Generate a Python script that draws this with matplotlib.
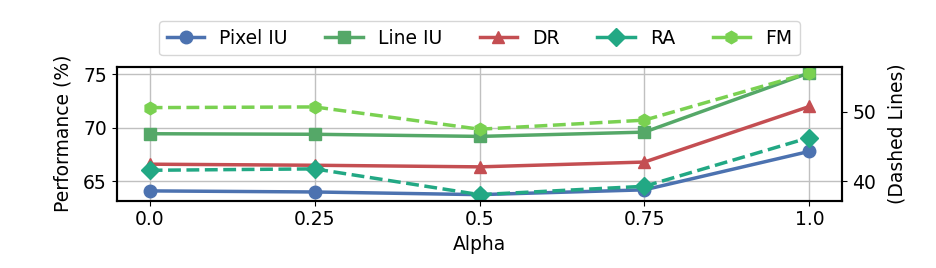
import numpy as np
import matplotlib.pyplot as plt
from matplotlib.lines import Line2D

alpha = [0.0, 0.25, 0.5, 0.75, 1.0]
alpha_labels = ['0.0', '0.25', '0.5', '0.75', '1.0']

# left axis (solid lines)
pixel_iu = [64.1, 64.0, 63.75, 64.2, 67.8]
line_iu  = [69.45, 69.4, 69.2, 69.6, 75.15]
dr       = [66.6, 66.5, 66.35, 66.8, 72.0]

# right axis (dashed lines)
ra = [41.6, 41.8, 38.1, 39.3, 46.3]
fm = [50.6, 50.7, 47.5, 48.8, 55.6]

C_BLUE, C_GREEN, C_RED = '#4C72B0', '#55A868', '#C44E52'
C_RA, C_FM = '#22A884', '#7AD151'

plt.rcParams['font.size'] = 13.5

fig = plt.figure(figsize=(9.37, 2.68), dpi=100)
ax = fig.add_axes([0.1245, 0.251, 0.7745, 0.5])
ax2 = ax.twinx()

lw, ms = 2.5, 9
ax.plot(alpha, pixel_iu, '-o', color=C_BLUE, lw=lw, ms=ms)
ax.plot(alpha, line_iu, '-s', color=C_GREEN, lw=lw, ms=ms)
ax.plot(alpha, dr, '-^', color=C_RED, lw=lw, ms=ms)
ax2.plot(alpha, ra, '--D', color=C_RA, lw=lw, ms=ms)
ax2.plot(alpha, fm, '--h', color=C_FM, lw=lw, ms=ms)

ax.set_xticks(alpha)
ax.set_xticklabels(alpha_labels)
ax.set_yticks([65, 70, 75])
ax2.set_yticks([40, 50])
ax.grid(True, color='#c0c0c0', lw=1)
ax.set_xlabel('Alpha')
ax.set_ylabel('Performance (%)', labelpad=8)
ax2.set_ylabel('(Dashed Lines)', labelpad=8)
for a in (ax, ax2):
    for s in a.spines.values():
        s.set_linewidth(1.5)

# legend handles drawn solid
handles = [
    Line2D([], [], color=C_BLUE, marker='o', lw=lw, ms=ms, label='Pixel IU'),
    Line2D([], [], color=C_GREEN, marker='s', lw=lw, ms=ms, label='Line IU'),
    Line2D([], [], color=C_RED, marker='^', lw=lw, ms=ms, label='DR'),
    Line2D([], [], color=C_RA, marker='D', lw=lw, ms=ms, label='RA'),
    Line2D([], [], color=C_FM, marker='h', lw=lw, ms=ms, label='FM'),
]
ax.legend(handles=handles, loc='lower center',
          bbox_to_anchor=(0.5, 1.015), ncol=5, frameon=True)

fig.savefig('out.png', dpi=100)
